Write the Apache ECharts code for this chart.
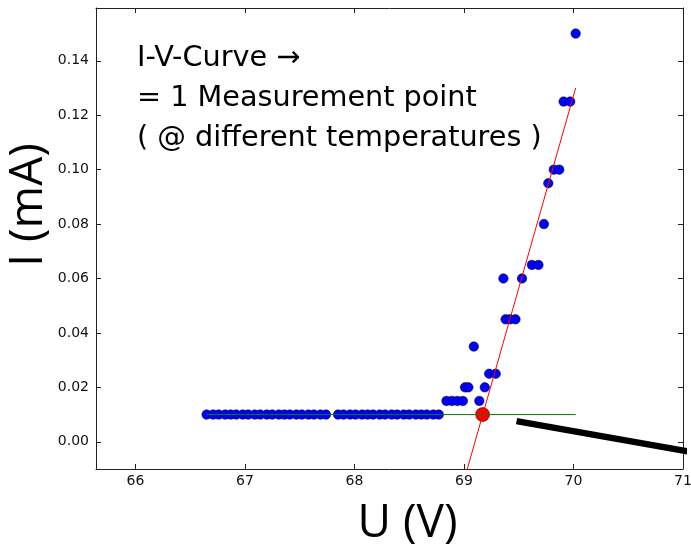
<!DOCTYPE html>
<html>
<head>
<meta charset="utf-8">
<script src="https://cdn.jsdelivr.net/npm/echarts@6/dist/echarts.min.js"></script>
<style>
  html, body { margin: 0; padding: 0; background: #fff; }
  #chart { width: 691px; height: 551px; }
</style>
</head>
<body>
<div id="chart"></div>
<script>
// Axis ticks
const uTicks = [66, 67, 68, 69, 70, 71];
const iTicks = [0.00, 0.02, 0.04, 0.06, 0.08, 0.10, 0.12, 0.14];

// Flat (leakage) part of the I-V curve, all at the same current level
const flatLevel = 0.01;
const flatU = [
  66.65, 66.71, 66.76, 66.82, 66.87, 66.92, 66.98, 67.03, 67.09, 67.14, 67.20,
  67.25, 67.31, 67.36, 67.41, 67.47, 67.52, 67.58, 67.63, 67.69, 67.74,
  67.85, 67.90, 67.96, 68.01, 68.07, 68.12, 68.17, 68.23, 68.28, 68.34,
  68.39, 68.45, 68.50, 68.56, 68.61, 68.66, 68.72, 68.77
];

// Breakdown part of the curve
const riseU = [
  68.84, 68.89, 68.94, 68.99, 69.14,
  69.01, 69.04, 69.19,
  69.23, 69.29,
  69.09,
  69.38, 69.42, 69.47,
  69.36, 69.53,
  69.62, 69.68,
  69.73,
  69.77,
  69.82, 69.87,
  69.91, 69.97,
  70.02
];
const riseI = [
  0.015, 0.015, 0.015, 0.015, 0.015,
  0.020, 0.020, 0.020,
  0.025, 0.025,
  0.035,
  0.045, 0.045, 0.045,
  0.060, 0.060,
  0.065, 0.065,
  0.080,
  0.095,
  0.100, 0.100,
  0.125, 0.125,
  0.150
];

// Linear fit of the breakdown slope
const fitU = [69.00, 70.02];
const fitI = [-0.0143, 0.130];

// Horizontal leakage level
const levelU = [66.65, 70.02];
const levelI = [0.01, 0.01];

// Breakdown voltage (intersection of fit and level)
const kneeU = 69.17;
const kneeI = 0.01;

// Pointer stroke leaving the plot
const pointerU = [69.48, 71.08];
const pointerI = [0.0076, -0.0038];

const noteLines = ['I-V-Curve \u2192', '= 1 Measurement point', '( @ different temperatures )'];

const pairs = (xs, ys) => xs.map((x, k) => [x, ys[k]]);
const scatterData = flatU.map(u => [u, flatLevel]).concat(pairs(riseU, riseI));

const frameColor = '#222';
const tickFont = { fontFamily: 'DejaVu Sans', fontSize: 14, color: '#111' };
const nameFont = 'Open Sans';

const xMin = 65.64, xMax = 71;
const yMin = -0.01, yMax = 0.1594;

function xAxisCfg(pos, withLabels) {
  return {
    type: 'value', position: pos, min: xMin, max: xMax,
    axisLine: { show: true, onZero: false, lineStyle: { color: frameColor, width: 1 } },
    axisTick: { show: true, inside: true, length: 5, customValues: uTicks, lineStyle: { color: frameColor, width: 1 } },
    axisLabel: withLabels ? Object.assign({ show: true, margin: 5, customValues: uTicks, formatter: v => String(v) }, tickFont) : { show: false },
    splitLine: { show: false }
  };
}
function yAxisCfg(pos, withLabels) {
  return {
    type: 'value', position: pos, min: yMin, max: yMax,
    axisLine: { show: true, onZero: false, lineStyle: { color: frameColor, width: 1 } },
    axisTick: { show: true, inside: true, length: 5, customValues: iTicks, lineStyle: { color: frameColor, width: 1 } },
    axisLabel: withLabels ? Object.assign({ show: true, margin: 7, customValues: iTicks, formatter: v => v.toFixed(2) }, tickFont) : { show: false },
    splitLine: { show: false }
  };
}

const xMain = xAxisCfg('bottom', true);
xMain.name = 'U (V)';
xMain.nameLocation = 'middle';
xMain.nameMoveOverlap = false;
xMain.nameGap = 32;
xMain.nameTextStyle = { fontFamily: nameFont, fontSize: 46, color: '#000', padding: [0, 0, 0, 36] };

const yMain = yAxisCfg('left', true);
yMain.name = 'I (mA)';
yMain.nameLocation = 'middle';
yMain.nameMoveOverlap = false;
yMain.nameGap = 44;
yMain.nameTextStyle = { fontFamily: nameFont, fontSize: 46, color: '#000', padding: [0, 0, 0, 67] };

const chart = echarts.init(document.getElementById('chart'), null, { renderer: 'canvas' });
chart.setOption({
  animation: false,
  backgroundColor: '#fff',
  grid: { left: 96, right: 8, top: 8, bottom: 82, containLabel: false, outerBoundsMode: 'none' },
  xAxis: [xMain, xAxisCfg('top', false)],
  yAxis: [yMain, yAxisCfg('right', false)],
  graphic: [{
    type: 'text',
    x: 137, y: 39,
    style: {
      text: noteLines.join('\n'),
      font: '28.7px "DejaVu Sans"',
      fill: '#000',
      lineHeight: 40
    }
  }],
  series: [
    {
      type: 'scatter', xAxisIndex: 0, yAxisIndex: 0,
      data: scatterData, symbol: 'circle', symbolSize: 9.5,
      itemStyle: { color: '#0000ff', borderColor: '#000', borderWidth: 0.5, opacity: 1 }
    },
    {
      type: 'line', data: pairs(levelU, levelI), showSymbol: false,
      lineStyle: { color: '#008000', width: 1 }
    },
    {
      type: 'line', data: pairs(fitU, fitI), showSymbol: false,
      lineStyle: { color: '#ff0000', width: 1 }
    },
    {
      type: 'scatter', data: [[kneeU, kneeI]], symbol: 'circle', symbolSize: 14,
      itemStyle: { color: '#ff0000', borderColor: '#000', borderWidth: 0.5, opacity: 1 }
    },
    {
      type: 'line', data: pairs(pointerU, pointerI), showSymbol: false, clip: false,
      lineStyle: { color: '#000', width: 6.5, cap: 'butt' }
    }
  ]
});
</script>
</body>
</html>
